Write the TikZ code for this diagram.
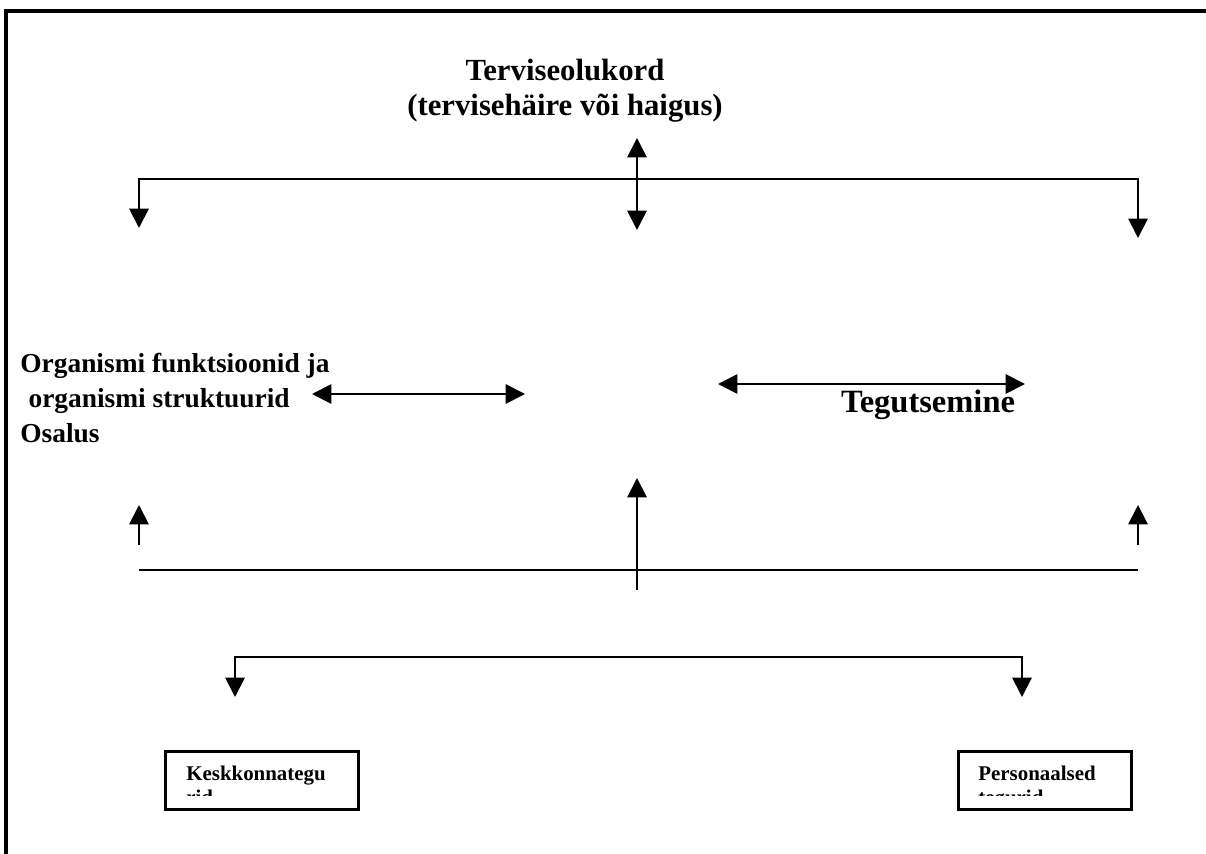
\documentclass[tikz,border=0pt]{standalone}
\usepackage{fontspec}
\setmainfont{Liberation Serif}
\usetikzlibrary{arrows.meta, positioning}

\tikzset{
  bigtext/.style={font=\fontsize{15.6}{19.8}\selectfont\bfseries, inner sep=0pt},
  headtext/.style={font=\fontsize{17.5}{19.8}\selectfont\bfseries, inner sep=0pt},
  smalltext/.style={font=\fontsize{11.9}{13.6}\selectfont\bfseries, inner sep=0pt},
  link/.style={line width=1.1pt},
  arr/.style={link, -{Triangle[width=11pt,length=11pt]}},
  dbl/.style={link, {Triangle[width=11pt,length=11pt]}-{Triangle[width=11pt,length=11pt]}},
  factorbox/.style={draw, line width=1.5pt, minimum height=1.16cm, inner sep=0pt}
}

\begin{document}
\begin{tikzpicture}[x=0.02cm, y=-0.02cm]
  \useasboundingbox (0,0) rectangle (1206,854);

  % page frame
  \draw[line width=2pt] (6,854) -- (6,11) -- (1206,11);

  % health condition
  \node[headtext, align=center] (health) at (565,91) {Terviseolukord\\(tervisehäire või haigus)};
  \coordinate (healthtip) at (637,138);
  \coordinate (topbus) at (637,179);
  \coordinate (bodytip) at (139,228);
  \coordinate (midtip) at (637,230);
  \coordinate (acttip) at (1138,238);
  \draw[dbl] (healthtip) -- (midtip);
  \draw[link] (bodytip |- topbus) -- (acttip |- topbus);
  \draw[arr] (topbus) -| (bodytip);
  \draw[arr] (topbus) -| (acttip);

  % components
  \node[bigtext, align=left, anchor=west] (body) at (20,398)
    {Organismi funktsioonid ja\\\hspace{0.3em}organismi struktuurid\\Osalus};
  \node[headtext, font=\fontsize{18.5}{20}\selectfont\bfseries] (activity) at (928,405) {Tegutsemine};
  \coordinate (bodyleft) at (312,394);
  \coordinate (bodyright) at (525,394);
  \coordinate (actleft) at (718,384);
  \coordinate (actright) at (1025,384);
  \draw[dbl] (bodyleft) -- (bodyright);
  \draw[dbl] (actleft) -- (actright);

  % contextual factors bus
  \coordinate (midbus) at (637,570);
  \coordinate (leftup) at (139,505);
  \coordinate (centerup) at (637,478);
  \coordinate (rightup) at (1138,505);
  \draw[link] (leftup |- midbus) -- (rightup |- midbus);
  \draw[arr] (139,545) -- (leftup);
  \draw[arr] (1138,545) -- (rightup);
  \draw[arr] (637,590) -- (centerup);

  \coordinate (lowbus) at (637,657);
  \coordinate (envtip) at (235,697);
  \coordinate (perstip) at (1022,697);
  \draw[arr] (lowbus) -| (envtip);
  \draw[arr] (lowbus) -| (perstip);

  % factor boxes
  \node[factorbox, minimum width=3.86cm, anchor=north west] (env) at (164,750) {};
  \node[factorbox, minimum width=3.46cm, anchor=north west] (pers) at (957,750) {};
  \begin{scope}
    \clip (164,750) rectangle (357,795);
    \node[smalltext, anchor=base west] (envtop) at (186,780) {Keskkonnategu};
    \node[smalltext, anchor=base west] (envbot) at (186,804) {rid};
  \end{scope}
  \begin{scope}
    \clip (957,750) rectangle (1130,795);
    \node[smalltext, anchor=base west] (perstop) at (978,780) {Personaalsed};
    \node[smalltext, anchor=base west] (persbot) at (978,804) {tegurid};
  \end{scope}
\end{tikzpicture}
\end{document}
